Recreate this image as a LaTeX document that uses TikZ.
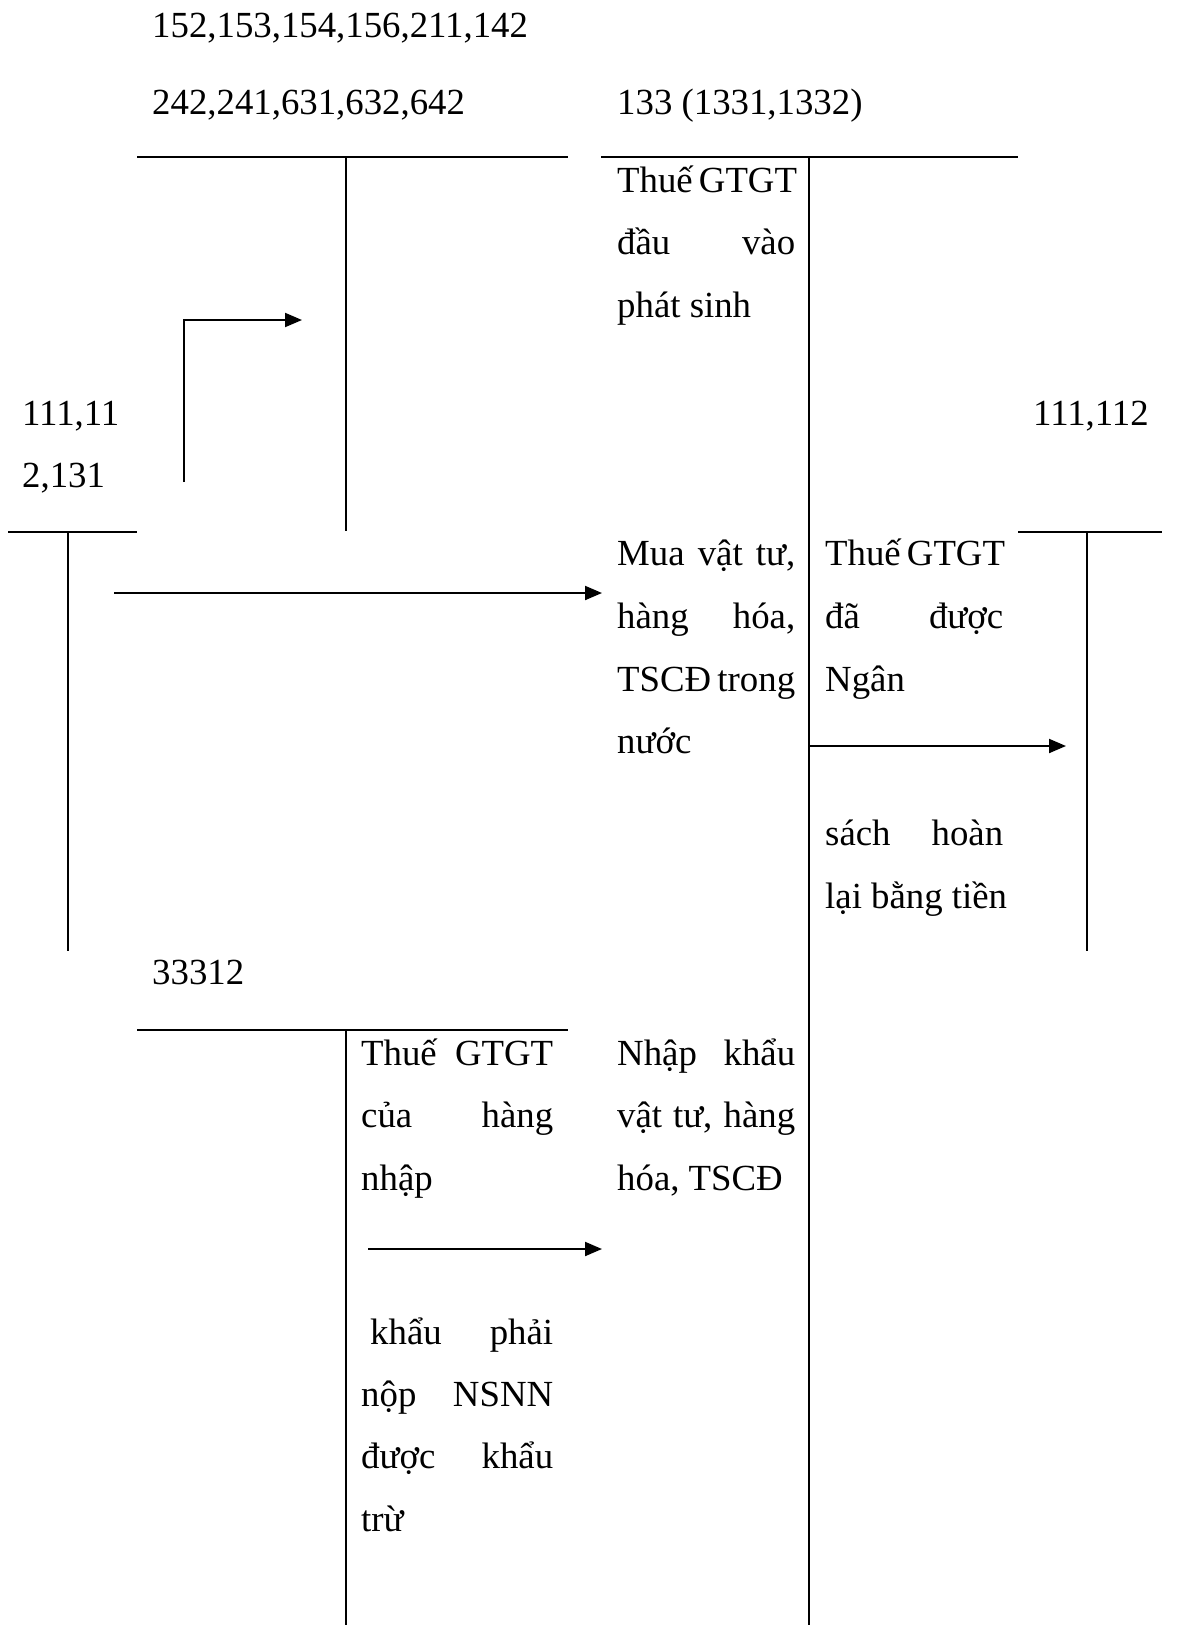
\documentclass[tikz,border=0pt]{standalone}
\usepackage{fontspec}
\setmainfont{Liberation Serif}
\usetikzlibrary{arrows.meta}
\newcommand{\jline}[2]{\makebox[#1pt][s]{#2}}
\begin{document}
\begin{tikzpicture}[x=1pt,y=-1pt,
  acc/.style={line width=2pt},
  flow/.style={line width=2pt,-{Triangle[length=17pt,width=14pt]}},
  txt/.style={anchor=base west,inner sep=0pt,font=\fontsize{36.8pt}{62pt}\selectfont}]
\useasboundingbox (0,0) rectangle (1204,1625);
% T-account lines
\draw[acc] (137,157) -- (568,157);
\draw[acc] (346,157) -- (346,531);
\draw[acc] (601,157) -- (1018,157);
\draw[acc] (809,157) -- (809,1625);
\draw[acc] (8,532) -- (137,532);
\draw[acc] (68,532) -- (68,951);
\draw[acc] (1018,532) -- (1162,532);
\draw[acc] (1087,532) -- (1087,951);
\draw[acc] (137,1030) -- (568,1030);
\draw[acc] (346,1030) -- (346,1625);
% arrows
\coordinate (a1s) at (184,482); \coordinate (a1m) at (184,320); \coordinate (a1e) at (302,320);
\draw[flow] (a1s) -- (a1m) -- (a1e);
\coordinate (a2s) at (114,593); \coordinate (a2e) at (602,593);
\draw[flow] (a2s) -- (a2e);
\coordinate (a3s) at (809,746); \coordinate (a3e) at (1066,746);
\draw[flow] (a3s) -- (a3e);
\coordinate (a4s) at (368,1249); \coordinate (a4e) at (602,1249);
\draw[flow] (a4s) -- (a4e);
% account labels
\node[txt] (t1) at (152,37) {152,153,154,156,211,142};
\node[txt] (t2) at (152,114) {242,241,631,632,642};
\node[txt] (t3) at (617,114) {133 (1331,1332)};
\node[txt] (t4) at (22,425) {111,11};
\node[txt] (t5) at (22,487) {2,131};
\node[txt] (t6) at (1033,425) {111,112};
\node[txt] (t7) at (152,984) {33312};
% column 133 left
\node[txt] (c1) at (617,192) {\jline{178}{Thuế GTGT}};
\node[txt] (c2) at (617,254) {\jline{178}{đầu vào}};
\node[txt] (c3) at (617,317) {phát sinh};
\node[txt] (c4) at (617,565) {\jline{178}{Mua vật tư,}};
\node[txt] (c5) at (617,628) {\jline{178}{hàng hóa,}};
\node[txt] (c6) at (617,691) {\jline{178}{TSCĐ trong}};
\node[txt] (c7) at (617,753) {nước};
\node[txt] (c8) at (617,1065) {\jline{178}{Nhập khẩu}};
\node[txt] (c9) at (617,1127) {\jline{178}{vật tư, hàng}};
\node[txt] (c10) at (617,1190) {hóa, TSCĐ};
% column 133 right
\node[txt] (r1) at (825,565) {\jline{178}{Thuế GTGT}};
\node[txt] (r2) at (825,628) {\jline{178}{đã được}};
\node[txt] (r3) at (825,691) {Ngân};
\node[txt] (r4) at (825,845) {\jline{178}{sách hoàn}};
\node[txt] (r5) at (825,908) {lại bằng tiền};
% column 33312
\node[txt] (s1) at (361,1065) {\jline{192}{Thuế GTGT}};
\node[txt] (s2) at (361,1127) {\jline{192}{của hàng}};
\node[txt] (s3) at (361,1190) {nhập};
\node[txt] (s4) at (370,1344) {\jline{183}{khẩu phải}};
\node[txt] (s5) at (361,1406) {\jline{192}{nộp NSNN}};
\node[txt] (s6) at (361,1468) {\jline{192}{được khẩu}};
\node[txt] (s7) at (361,1531) {trừ};
\end{tikzpicture}
\end{document}
